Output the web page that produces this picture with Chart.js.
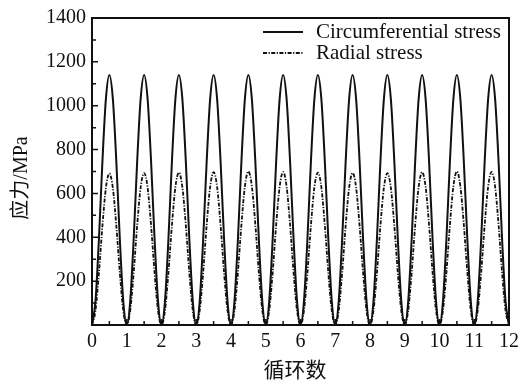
<!DOCTYPE html>
<html>
<head>
<meta charset="utf-8">
<script src="https://cdn.jsdelivr.net/npm/chart.js@4.4.0/dist/chart.umd.min.js"></script>
<style>
  html, body { margin: 0; padding: 0; background: #fff; }
  #wrap { width: 524px; height: 385px; }
</style>
</head>
<body>
<div id="wrap"><canvas id="stressChart" width="524" height="385"></canvas></div>
<script>
const circumferential = [
  0, 109, 394, 746, 1031, 1140, 1031, 746, 394, 109,
  0, 109, 394, 746, 1031, 1140, 1031, 746, 394, 109,
  0, 109, 394, 746, 1031, 1140, 1031, 746, 394, 109,
  0, 109, 394, 746, 1031, 1140, 1031, 746, 394, 109,
  0, 109, 394, 746, 1031, 1140, 1031, 746, 394, 109,
  0, 109, 394, 746, 1031, 1140, 1031, 746, 394, 109,
  0, 109, 394, 746, 1031, 1140, 1031, 746, 394, 109,
  0, 109, 394, 746, 1031, 1140, 1031, 746, 394, 109,
  0, 109, 394, 746, 1031, 1140, 1031, 746, 394, 109,
  0, 109, 394, 746, 1031, 1140, 1031, 746, 394, 109,
  0, 109, 394, 746, 1031, 1140, 1031, 746, 394, 109,
  0, 109, 394, 746, 1031, 1140, 1031, 746, 394, 109,
  0
];
const radial = [
  0, 66, 239, 452, 625, 691, 625, 452, 239, 66,
  0, 66, 240, 454, 627, 693, 627, 454, 240, 66,
  0, 66, 240, 455, 629, 695, 629, 455, 240, 66,
  0, 67, 241, 456, 630, 697, 630, 456, 241, 67,
  0, 67, 242, 458, 633, 700, 633, 458, 242, 67,
  0, 67, 241, 457, 631, 698, 631, 457, 241, 67,
  0, 66, 240, 455, 629, 695, 629, 455, 240, 66,
  0, 66, 240, 454, 627, 693, 627, 454, 240, 66,
  0, 66, 239, 453, 626, 692, 626, 453, 239, 66,
  0, 67, 241, 456, 630, 697, 630, 456, 241, 67,
  0, 67, 242, 458, 633, 700, 633, 458, 242, 67,
  0, 67, 241, 457, 631, 698, 631, 457, 241, 67,
  0
];
const seriesNames = ["Circumferential stress", "Radial stress"];
const xTicks = [0, 1, 2, 3, 4, 5, 6, 7, 8, 9, 10, 11, 12];
const yTicks = [200, 400, 600, 800, 1000, 1200, 1400];
const xTitle = "循环数";
const yTitle = "应力/MPa";

const serif = "'Liberation Serif', 'Times New Roman', serif";
const ink = "#111";
const radialDash = [4, 1.5, 1.2, 1.5];

function toPoints(vals) {
  return vals.map((v, i) => ({ x: i / 10, y: v }));
}

// frame, inward ticks, axis titles and in-plot legend
const decorations = {
  id: "decorations",
  afterDraw(chart) {
    const ctx = chart.ctx;
    const a = chart.chartArea;
    const xs = chart.scales.x;
    const ys = chart.scales.y;
    ctx.save();
    ctx.strokeStyle = ink;
    ctx.lineWidth = 2;
    ctx.strokeRect(a.left, a.top, a.right - a.left, a.bottom - a.top);

    ctx.lineWidth = 1.5;
    ctx.beginPath();
    for (let v = 0; v <= 12; v += 0.5) {
      const px = xs.getPixelForValue(v);
      const len = Number.isInteger(v) ? 6 : 4;
      ctx.moveTo(px, a.bottom);
      ctx.lineTo(px, a.bottom - len);
    }
    for (let v = 0; v <= 1400; v += 100) {
      const py = ys.getPixelForValue(v);
      const len = v % 200 === 0 ? 6 : 4;
      ctx.moveTo(a.left, py);
      ctx.lineTo(a.left + len, py);
    }
    ctx.stroke();

    // axis titles
    ctx.fillStyle = ink;
    ctx.textAlign = "center";
    ctx.textBaseline = "middle";
    ctx.font = "21px 'Noto Sans CJK SC', sans-serif";
    ctx.fillText(xTitle, 295, 369);
    ctx.save();
    ctx.translate(22, 178);
    ctx.rotate(-Math.PI / 2);
    ctx.font = "20px " + serif + ", 'Noto Sans CJK SC'";
    ctx.fillText(yTitle, 0, 0);
    ctx.restore();

    // legend
    ctx.font = "21px " + serif;
    ctx.textAlign = "left";
    const rows = [
      { name: seriesNames[0], dash: [], y: 32 },
      { name: seriesNames[1], dash: radialDash, y: 53 }
    ];
    rows.forEach(r => {
      ctx.setLineDash(r.dash);
      ctx.lineWidth = 1.8;
      ctx.beginPath();
      ctx.moveTo(263, r.y);
      ctx.lineTo(303, r.y);
      ctx.stroke();
      ctx.setLineDash([]);
      ctx.fillText(r.name, 316, r.y);
    });
    ctx.restore();
  }
};

new Chart(document.getElementById("stressChart"), {
  type: "line",
  data: {
    datasets: [
      {
        label: seriesNames[0],
        data: toPoints(circumferential),
        borderColor: ink,
        borderWidth: 2,
        pointRadius: 0,
        cubicInterpolationMode: "monotone",
        fill: false
      },
      {
        label: seriesNames[1],
        data: toPoints(radial),
        borderColor: ink,
        borderWidth: 1.8,
        borderDash: radialDash,
        pointRadius: 0,
        cubicInterpolationMode: "monotone",
        fill: false
      }
    ]
  },
  options: {
    responsive: false,
    animation: false,
    layout: { padding: { top: 16, right: 12, left: 0, bottom: 0 } },
    plugins: { legend: { display: false }, tooltip: { enabled: false } },
    scales: {
      x: {
        type: "linear",
        min: 0,
        max: 12,
        afterBuildTicks: s => { s.ticks = xTicks.map(v => ({ value: v })); },
        afterFit: s => { s.height = 60; },
        grid: { display: false, drawTicks: false },
        border: { display: false },
        ticks: { color: ink, font: { family: serif, size: 20 }, padding: 5, maxRotation: 0,
                 callback: v => String(v) }
      },
      y: {
        type: "linear",
        min: 0,
        max: 1400,
        afterBuildTicks: s => { s.ticks = yTicks.map(v => ({ value: v })); },
        afterFit: s => { s.width = 92; },
        grid: { display: false, drawTicks: false },
        border: { display: false },
        ticks: { color: ink, font: { family: serif, size: 20 }, padding: 6,
                 callback: v => String(v) }
      }
    }
  },
  plugins: [decorations]
});
</script>
</body>
</html>
